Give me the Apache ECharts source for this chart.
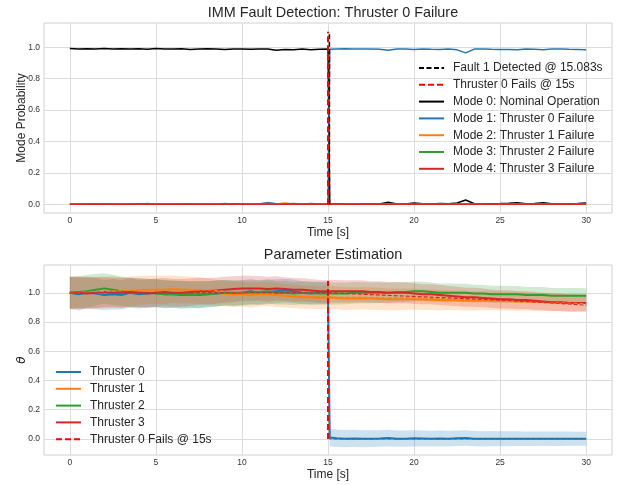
<!DOCTYPE html>
<html><head><meta charset="utf-8">
<script src="https://cdn.jsdelivr.net/npm/echarts@6/dist/echarts.min.js"></script>
<style>html,body{margin:0;padding:0;background:#fff}#c{width:618px;height:485px}</style>
</head><body><div id="c"></div>
<script>
// ---- shared time axis (s) ----
const time = [0,0.5,1,1.5,2,2.5,3,3.5,4,4.5,5,5.5,6,6.5,7,7.5,8,8.5,9,9.5,10,10.5,11,11.5,12,12.5,13,13.5,14,14.5,15,15.1,15.5,16,16.5,17,17.5,18,18.5,19,19.5,20,20.5,21,21.5,22,22.5,23,23.5,24,24.5,25,25.5,26,26.5,27,27.5,28,28.5,29,29.5,30];

// ---- top: mode probabilities ----
const mode0 = [0.992,0.990,0.991,0.989,0.992,0.990,0.991,0.990,0.991,0.988,0.992,0.990,0.990,0.991,0.987,0.990,0.991,0.990,0.986,0.990,0.990,0.988,0.990,0.989,0.982,0.987,0.984,0.989,0.985,0.988,0.990,
  0.006,
  0.002,0.002,0.001,0.002,0.002,0.003,0.014,0.003,0.002,0.009,0.004,0.003,0.005,0.004,0.009,0.028,0.004,0.003,0.004,0.005,0.007,0.010,0.004,0.005,0.011,0.004,0.003,0.004,0.005,0.009];
const mode1 = [0.002,0.002,0.003,0.002,0.002,0.003,0.002,0.002,0.003,0.002,0.002,0.003,0.002,0.002,0.004,0.002,0.002,0.003,0.003,0.002,0.002,0.003,0.002,0.012,0.004,0.003,0.005,0.003,0.004,0.003,0.003,
  0.988,
  0.990,0.991,0.990,0.989,0.990,0.988,0.982,0.990,0.989,0.986,0.990,0.988,0.987,0.990,0.984,0.965,0.989,0.990,0.988,0.987,0.986,0.985,0.990,0.988,0.984,0.989,0.990,0.988,0.987,0.985];
const mode2 = [0.001,0.002,0.001,0.003,0.001,0.002,0.001,0.002,0.001,0.001,0.002,0.001,0.002,0.004,0.001,0.002,0.001,0.002,0.001,0.002,0.001,0.002,0.003,0.006,0.002,0.008,0.002,0.003,0.002,0.002,0.002,
  0.002,
  0.001,0.002,0.001,0.001,0.002,0.001,0.002,0.001,0.002,0.001,0.002,0.001,0.002,0.001,0.003,0.002,0.001,0.002,0.001,0.002,0.001,0.002,0.001,0.001,0.002,0.001,0.002,0.001,0.002,0.001];
const mode3 = [0.001,0.001,0.002,0.001,0.002,0.001,0.001,0.002,0.001,0.006,0.001,0.002,0.001,0.001,0.002,0.001,0.002,0.001,0.005,0.001,0.002,0.001,0.002,0.001,0.002,0.003,0.002,0.001,0.005,0.002,0.002,
  0.002,
  0.001,0.001,0.002,0.001,0.001,0.002,0.001,0.001,0.002,0.001,0.001,0.002,0.001,0.003,0.001,0.001,0.002,0.001,0.001,0.002,0.001,0.001,0.002,0.001,0.001,0.002,0.001,0.001,0.002,0.001];
const mode4 = [0.001,0.001,0.001,0.002,0.001,0.001,0.001,0.001,0.002,0.001,0.001,0.001,0.001,0.002,0.001,0.001,0.001,0.001,0.001,0.002,0.001,0.001,0.001,0.002,0.001,0.001,0.002,0.001,0.001,0.001,0.001,
  0.001,
  0.001,0.001,0.001,0.001,0.002,0.001,0.001,0.001,0.001,0.001,0.001,0.002,0.001,0.001,0.001,0.001,0.001,0.001,0.002,0.001,0.001,0.001,0.001,0.001,0.001,0.001,0.002,0.001,0.001,0.001];

const failTime = 15;
const detectTime = 15.083;
const topVlineSpan = [0, 1.1];
const bottomVlineSpan = [0, 1.08];

// ---- bottom: parameter estimates and band half-widths ----
const thr0Est = [1.000,0.990,1.000,0.995,0.985,0.990,0.985,1.000,0.990,0.995,1.000,0.990,0.990,0.985,0.990,0.985,0.990,0.995,1.000,0.995,1.000,1.010,1.000,1.005,1.010,1.015,1.010,1.000,0.995,1.000,1.000,
  0.010,
  0.004,0.002,0.003,0.001,0.002,0.003,0.006,0.002,0.002,0.004,0.003,0.002,0.003,0.002,0.004,0.006,0.002,0.001,0.002,0.001,0.001,0.002,0.001,0.001,0.002,0.001,0.001,0.002,0.001,0.001];
const thr1Est = [1.000,1.000,1.005,1.000,1.000,1.010,1.000,1.010,1.015,1.020,1.020,1.020,1.025,1.020,1.020,1.015,1.010,1.000,0.995,0.990,0.990,0.985,0.990,0.990,0.985,0.980,0.975,0.970,0.970,0.965,0.970,
  0.970,
  0.965,0.960,0.960,0.962,0.960,0.958,0.955,0.955,0.956,0.955,0.954,0.952,0.950,0.950,0.948,0.946,0.945,0.946,0.945,0.944,0.942,0.940,0.940,0.938,0.936,0.935,0.934,0.932,0.930,0.930];
const thr2Est = [1.000,1.005,1.010,1.020,1.030,1.020,1.010,1.000,1.000,1.000,0.995,0.990,0.990,0.990,0.985,0.990,0.990,0.995,1.000,1.000,1.000,1.000,1.005,1.010,1.000,1.000,0.995,1.000,1.000,0.995,0.995,
  0.995,
  0.995,0.995,1.000,1.000,1.000,1.000,1.000,1.005,1.005,1.010,1.010,1.005,1.000,1.000,1.000,1.000,0.995,0.995,0.990,0.990,0.990,0.990,0.985,0.985,0.985,0.980,0.980,0.980,0.980,0.980];
const thr3Est = [1.000,1.000,0.995,1.000,1.005,1.000,1.000,1.005,1.000,0.995,1.000,1.005,1.000,1.000,1.005,1.010,1.010,1.015,1.020,1.025,1.030,1.030,1.030,1.025,1.030,1.025,1.020,1.020,1.015,1.010,1.010,
  1.010,
  1.010,1.010,1.010,1.010,1.005,1.005,1.000,1.000,1.000,0.995,0.990,0.990,0.985,0.980,0.975,0.970,0.970,0.965,0.960,0.955,0.955,0.950,0.950,0.945,0.940,0.935,0.935,0.930,0.930,0.930];

const thr0Half = [0.110,0.112,0.106,0.108,0.103,0.104,0.100,0.101,0.097,0.098,0.095,0.096,0.093,0.094,0.091,0.092,0.089,0.090,0.087,0.088,0.085,0.086,0.083,0.084,0.082,0.081,0.080,0.079,0.078,0.077,0.076,
  0.060,
  0.060,0.059,0.059,0.058,0.058,0.057,0.057,0.056,0.056,0.055,0.055,0.054,0.054,0.054,0.053,0.053,0.052,0.052,0.052,0.051,0.051,0.050,0.050,0.050,0.049,0.049,0.049,0.048,0.048,0.048];
const thr1Half = [0.112,0.110,0.108,0.107,0.105,0.104,0.102,0.101,0.100,0.098,0.097,0.096,0.094,0.093,0.092,0.091,0.090,0.089,0.088,0.087,0.086,0.085,0.084,0.083,0.082,0.081,0.080,0.079,0.079,0.078,0.078,
  0.078,
  0.078,0.078,0.077,0.077,0.076,0.076,0.075,0.074,0.073,0.072,0.071,0.070,0.069,0.068,0.068,0.067,0.066,0.065,0.065,0.064,0.063,0.063,0.062,0.062,0.061,0.061,0.060,0.060,0.060,0.059];
const thr2Half = [0.108,0.110,0.112,0.108,0.104,0.103,0.101,0.100,0.099,0.097,0.096,0.095,0.094,0.092,0.091,0.090,0.089,0.088,0.087,0.086,0.085,0.084,0.083,0.082,0.081,0.080,0.079,0.078,0.077,0.077,0.076,
  0.076,
  0.075,0.074,0.073,0.072,0.071,0.070,0.069,0.069,0.068,0.067,0.066,0.065,0.064,0.063,0.062,0.061,0.060,0.059,0.058,0.058,0.057,0.056,0.055,0.055,0.054,0.053,0.053,0.052,0.052,0.051];
const thr3Half = [0.110,0.109,0.107,0.106,0.104,0.103,0.102,0.100,0.099,0.098,0.097,0.096,0.095,0.094,0.093,0.092,0.091,0.090,0.089,0.088,0.087,0.086,0.085,0.084,0.083,0.082,0.081,0.080,0.079,0.078,0.077,
  0.077,
  0.077,0.076,0.076,0.075,0.074,0.073,0.073,0.072,0.071,0.070,0.069,0.068,0.068,0.067,0.066,0.065,0.065,0.064,0.063,0.063,0.062,0.062,0.061,0.061,0.060,0.060,0.059,0.059,0.058,0.058];

// true parameter values (dashed, not in legend)
const true0Time = [0, 15, 15.1, 30];
const true0Val  = [1.0, 1.0, 0.0, 0.0];
const true1Time = [0, 4, 8, 10, 13, 15, 20, 23, 26, 30];
const true1Val  = [1.0, 1.02, 1.02, 1.0, 0.975, 0.97, 0.965, 0.955, 0.94, 0.925];
const true3Time = [0, 15, 17, 20, 22, 25, 28, 30];
const true3Val  = [1.0, 1.0, 0.99, 0.975, 0.965, 0.95, 0.93, 0.915];

// ---- ticks / labels ----
const xTicks = [0,5,10,15,20,25,30];
const yTicks = [0,0.2,0.4,0.6,0.8,1.0];
const modeNames = ['Mode 0: Nominal Operation','Mode 1: Thruster 0 Failure','Mode 2: Thruster 1 Failure','Mode 3: Thruster 2 Failure','Mode 4: Thruster 3 Failure'];
const thrNames = ['Thruster 0','Thruster 1','Thruster 2','Thruster 3'];
const detectName = 'Fault 1 Detected @ 15.083s';
const failName = 'Thruster 0 Fails @ 15s';

const C = ['#1f77b4','#ff7f0e','#2ca02c','#d62728'];
const BAND = ['rgba(31,119,180,0.22)','rgba(255,127,14,0.22)','rgba(44,160,44,0.22)','rgba(214,39,40,0.22)'];
const FONT = '"Liberation Sans", Arial, sans-serif';
const TXT = '#262626';

const zip = (xs, ys) => xs.map((x, i) => [x, ys[i]]);

function xAxis(gi) {
  return {
    type: 'value', gridIndex: gi, min: -1.5, max: 31.5,
    name: 'Time [s]', nameLocation: 'middle', nameGap: 13.5, nameMoveOverlap: false,
    nameTextStyle: {fontSize: 12, color: TXT, fontFamily: FONT},
    axisLine: {show: false}, axisTick: {show: false, customValues: xTicks},
    axisLabel: {customValues: xTicks, fontSize: 8.5, color: '#333', fontFamily: FONT, margin: 3},
    splitLine: {show: true, lineStyle: {color: '#dcdcdc', width: 1}}
  };
}
function yAxis(gi, min, max, name, nameStyle, gap) {
  return {
    type: 'value', gridIndex: gi, min: min, max: max,
    name: name, nameLocation: 'middle', nameGap: gap, nameMoveOverlap: false,
    nameTextStyle: Object.assign({fontSize: 12, color: TXT, fontFamily: FONT}, nameStyle),
    axisLine: {show: false}, axisTick: {show: false, customValues: yTicks},
    axisLabel: {customValues: yTicks, fontSize: 8.5, color: '#333', fontFamily: FONT, margin: 4,
      formatter: v => v.toFixed(1)},
    splitLine: {show: true, lineStyle: {color: '#dcdcdc', width: 1}}
  };
}
function lineS(name, data, color, width, gi, dash, z) {
  return {
    type: 'line', name: name, xAxisIndex: gi, yAxisIndex: gi, data: data,
    symbol: 'none', showSymbol: false, silent: true, z: z || 2,
    lineStyle: {color: color, width: width, type: dash || 'solid'},
    itemStyle: {color: color}
  };
}
function band(est, half, fill) {
  return {
    type: 'custom', xAxisIndex: 1, yAxisIndex: 1, silent: true, z: 1,
    data: [[0, 0]],
    renderItem: (params, api) => {
      const up = time.map((t, i) => api.coord([t, est[i] + half[i]]));
      const lo = time.map((t, i) => api.coord([t, est[i] - half[i]])).reverse();
      return {type: 'polygon', shape: {points: up.concat(lo)}, style: {fill: fill}};
    }
  };
}

const modes = [mode0, mode1, mode2, mode3, mode4];
const modeColors = ['#000000', C[0], C[1], C[2], C[3]];
const ests = [thr0Est, thr1Est, thr2Est, thr3Est];
const halves = [thr0Half, thr1Half, thr2Half, thr3Half];

const series = [];
modes.forEach((m, i) => series.push(lineS(modeNames[i], zip(time, m), modeColors[i], 1.5, 0)));
series.push(lineS(detectName, [[detectTime, topVlineSpan[0]], [detectTime, topVlineSpan[1]]], '#000000', 1.5, 0, [5, 2.5], 3));
series.push(lineS(failName, [[failTime, topVlineSpan[0]], [failTime, topVlineSpan[1]]], '#ff0000', 2, 0, [6, 3], 3));

ests.forEach((e, i) => series.push(band(e, halves[i], BAND[i])));
ests.forEach((e, i) => series.push(lineS(thrNames[i], zip(time, e), C[i], 2, 1)));
series.push(lineS('true0', zip(true0Time, true0Val), C[0], 1.2, 1, [4, 2], 2));
series.push(lineS('true1', zip(true1Time, true1Val), C[1], 1.2, 1, [4, 2], 2));
series.push(lineS('true3', zip(true3Time, true3Val), C[3], 1.2, 1, [4, 2], 2));
series.push(lineS(failName, [[failTime, bottomVlineSpan[0]], [failTime, bottomVlineSpan[1]]], '#ff0000', 2, 1, [6, 3], 3));

const legendCommon = {
  orient: 'vertical', itemWidth: 25, itemHeight: 14, itemGap: 4.8, selectedMode: false,
  itemStyle: {opacity: 0, borderWidth: 0},
  textStyle: {fontSize: 12, color: TXT, fontFamily: FONT, padding: [0, 0, 0, 4]}
};

const chart = echarts.init(document.getElementById('c'), null, {renderer: 'canvas'});
chart.setOption({
  animation: false,
  backgroundColor: '#ffffff',
  title: [
    {text: 'IMM Fault Detection: Thruster 0 Failure', left: 328, top: 1, textAlign: 'center',
      textStyle: {fontSize: 14.4, fontWeight: 'normal', color: TXT, fontFamily: FONT}},
    {text: 'Parameter Estimation', left: 328, top: 243, textAlign: 'center',
      textStyle: {fontSize: 14.4, fontWeight: 'normal', color: TXT, fontFamily: FONT}}
  ],
  grid: [
    {left: 44, right: 6, top: 23, height: 190, show: true, borderColor: '#d0d0d0', borderWidth: 1, backgroundColor: 'transparent'},
    {left: 44, right: 6, top: 265, height: 190, show: true, borderColor: '#d0d0d0', borderWidth: 1, backgroundColor: 'transparent'}
  ],
  xAxis: [xAxis(0), xAxis(1)],
  yAxis: [
    yAxis(0, -0.055, 1.155, 'Mode Probability', {}, 16),
    yAxis(1, -0.11, 1.19, 'θ', {fontFamily: '"DejaVu Sans"', fontStyle: 'italic'}, 16)
  ],
  legend: [
    Object.assign({data: [detectName, failName].concat(modeNames), left: 413, top: 57}, legendCommon),
    Object.assign({data: thrNames.concat([failName]), left: 50, top: 361}, legendCommon)
  ],
  series: series
});
</script></body></html>
